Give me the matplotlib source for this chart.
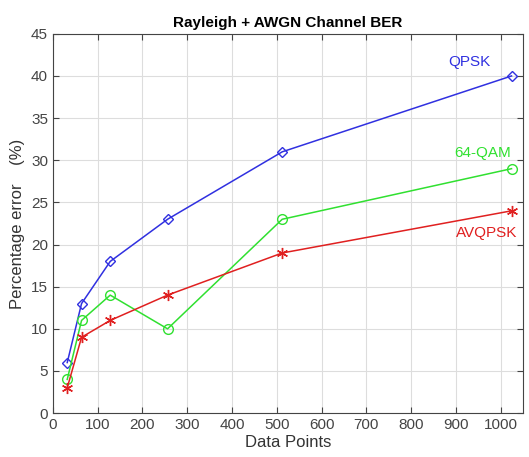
import matplotlib.pyplot as plt

plt.rcParams['font.family'] = ['Liberation Sans', 'DejaVu Sans']

# Data
data_points = [32, 64, 128, 256, 512, 1024]
qpsk = [6, 13, 18, 23, 31, 40]
qam64 = [4, 11, 14, 10, 23, 29]
avqpsk = [3, 9, 11, 14, 19, 24]

fig = plt.figure(figsize=(5.29, 4.57), dpi=100)
ax = fig.add_axes([0.100, 0.096, 0.889, 0.830])

ax.plot(data_points, qpsk, color='#3030e0', marker='D', markersize=5.5,
        markerfacecolor='none', linewidth=1.1)
ax.plot(data_points, qam64, color='#30e030', marker='o', markersize=7,
        markerfacecolor='none', linewidth=1.1)
ax.plot(data_points, avqpsk, color='#e02020', marker=(6, 2, 0), markersize=8,
        linewidth=1.1)

ax.text(930, 41.7, 'QPSK', color='#3030e0', fontsize=11, ha='center', va='center')
ax.text(960, 30.9, '64-QAM', color='#30e030', fontsize=11, ha='center', va='center')
ax.text(968, 21.4, 'AVQPSK', color='#e02020', fontsize=11, ha='center', va='center')

ax.set_xlim(0, 1050)
ax.set_ylim(0, 45)
ax.set_xticks(range(0, 1001, 100))
ax.set_yticks(range(0, 46, 5))
ax.grid(True, color='#dddddd', linewidth=0.8)
ax.set_axisbelow(True)
ax.tick_params(direction='in', top=True, right=True, labelsize=11,
               colors='#444444', length=4)
for s in ax.spines.values():
    s.set_color('#444444')

ax.set_title('Rayleigh + AWGN Channel BER', fontsize=11, fontweight='bold', pad=5)
ax.set_xlabel('Data Points', fontsize=12, color='#333333', labelpad=2)
ax.set_ylabel('Percentage error    (%)', fontsize=12, color='#333333', labelpad=4)

plt.savefig('out.png', dpi=100)
plt.close()
